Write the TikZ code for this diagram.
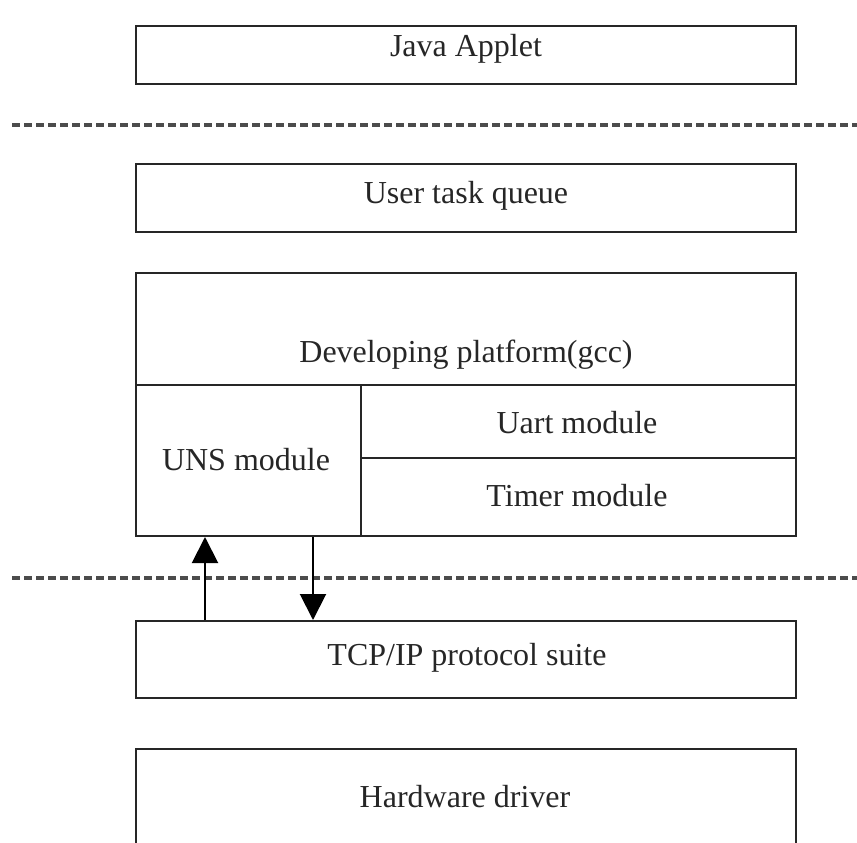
\documentclass[tikz,border=0pt]{standalone}
\usepackage{fontspec}
\setmainfont{Liberation Serif}
\usetikzlibrary{arrows.meta}
\begin{document}
\begin{tikzpicture}[x=1pt,y=-1pt,
  box/.style={draw=black!85,line width=2pt,rectangle,inner sep=0pt,anchor=north west},
  lbl/.style={font=\fontsize{32}{38}\selectfont,text=black!85,inner sep=0pt,anchor=base},
  sep/.style={draw=black!70,line width=4pt,dash pattern=on 8pt off 4pt},
  arr/.style={draw=black,line width=2pt,-{Triangle[length=26pt,width=26pt]}}]
\useasboundingbox (0,0) rectangle (857,843);
% boxes
\node[box,minimum width=660pt,minimum height=58pt] (java) at (135,25) {};
\node[box,minimum width=660pt,minimum height=68pt] (user) at (135,163) {};
\node[box,minimum width=660pt,minimum height=112pt] (dev) at (135,272) {};
\node[box,minimum width=225pt,minimum height=151pt] (uns) at (135,384) {};
\node[box,minimum width=435pt,minimum height=73pt] (uart) at (360,384) {};
\node[box,minimum width=435pt,minimum height=78pt] (timer) at (360,457) {};
\node[box,minimum width=660pt,minimum height=77pt] (tcp) at (135,620) {};
\node[box,minimum width=660pt,minimum height=160pt] (hw) at (135,748) {};
% labels
\node[lbl] (tjava) at (466,57) {Java Applet};
\node[lbl] (tuser) at (466,203) {User task queue};
\node[lbl] (tdev) at (466,362) {Developing platform(gcc)};
\node[lbl] (tuns) at (246,470) {UNS module};
\node[lbl] (tuart) at (577,433) {Uart module};
\node[lbl] (ttimer) at (577,506) {Timer module};
\node[lbl] (ttcp) at (467,665) {TCP/IP protocol suite};
\node[lbl] (thw) at (465,807) {Hardware driver};
% separators
\coordinate (s1a) at (12,125);
\coordinate (s1b) at (857,125);
\coordinate (s2a) at (12,578);
\coordinate (s2b) at (857,578);
\draw[sep] (s1a) -- (s1b);
\draw[sep] (s2a) -- (s2b);
% arrows
\coordinate (xu) at (205,0);
\coordinate (xd) at (313,0);
\draw[arr] (tcp.north -| xu) -- (uns.south -| xu);
\draw[arr] (uns.south -| xd) -- (tcp.north -| xd);
\end{tikzpicture}
\end{document}
